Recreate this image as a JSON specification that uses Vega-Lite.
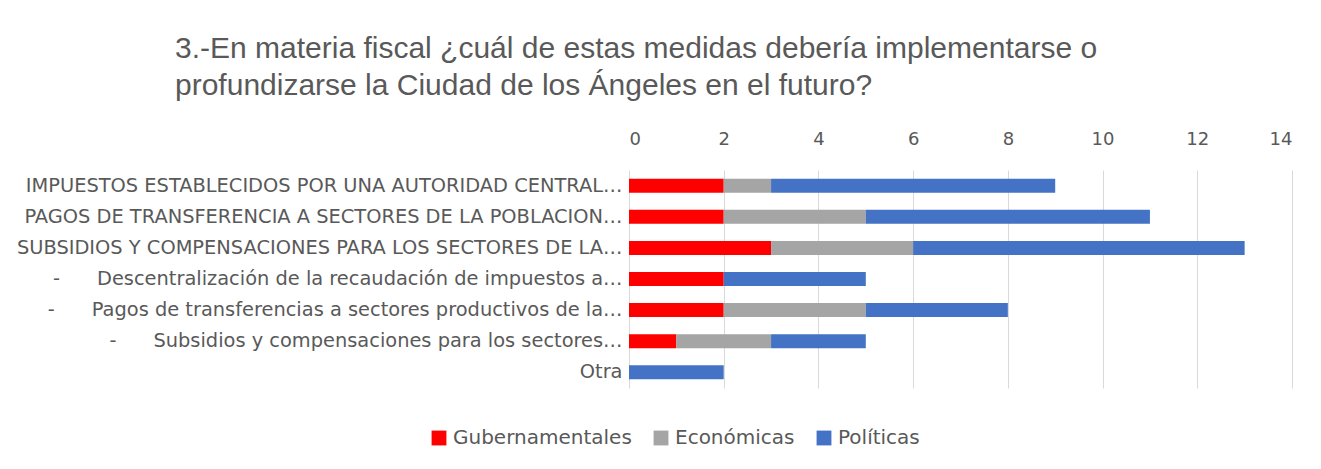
{
  "$schema": "https://vega.github.io/schema/vega-lite/v6.json",
  "autosize": "none",
  "width": 663,
  "height": 218,
  "padding": {"left": 629, "top": 170, "right": 29, "bottom": 81},
  "background": "white",
  "title": {
    "text": ["3.-En materia fiscal ¿cuál de estas medidas debería implementarse o", "profundizarse la Ciudad de los Ángeles en el futuro?"],
    "anchor": "start",
    "frame": "group",
    "dx": -454,
    "offset": 29,
    "font": "Liberation Sans",
    "fontSize": 30,
    "fontWeight": "normal",
    "color": "#595959",
    "lineHeight": 37
  },
  "data": {
    "values": [
      {"medida": "IMPUESTOS ESTABLECIDOS POR UNA AUTORIDAD CENTRAL…", "serie": "Gubernamentales", "n": 0, "valor": 2},
      {"medida": "IMPUESTOS ESTABLECIDOS POR UNA AUTORIDAD CENTRAL…", "serie": "Económicas", "n": 1, "valor": 1},
      {"medida": "IMPUESTOS ESTABLECIDOS POR UNA AUTORIDAD CENTRAL…", "serie": "Políticas", "n": 2, "valor": 6},
      {"medida": "PAGOS DE TRANSFERENCIA A SECTORES DE LA POBLACION…", "serie": "Gubernamentales", "n": 0, "valor": 2},
      {"medida": "PAGOS DE TRANSFERENCIA A SECTORES DE LA POBLACION…", "serie": "Económicas", "n": 1, "valor": 3},
      {"medida": "PAGOS DE TRANSFERENCIA A SECTORES DE LA POBLACION…", "serie": "Políticas", "n": 2, "valor": 6},
      {"medida": "SUBSIDIOS Y COMPENSACIONES PARA LOS SECTORES DE LA…", "serie": "Gubernamentales", "n": 0, "valor": 3},
      {"medida": "SUBSIDIOS Y COMPENSACIONES PARA LOS SECTORES DE LA…", "serie": "Económicas", "n": 1, "valor": 3},
      {"medida": "SUBSIDIOS Y COMPENSACIONES PARA LOS SECTORES DE LA…", "serie": "Políticas", "n": 2, "valor": 7},
      {"medida": "-\u00a0\u00a0\u00a0\u00a0\u00a0\u00a0Descentralización de la recaudación de impuestos a…", "serie": "Gubernamentales", "n": 0, "valor": 2},
      {"medida": "-\u00a0\u00a0\u00a0\u00a0\u00a0\u00a0Descentralización de la recaudación de impuestos a…", "serie": "Económicas", "n": 1, "valor": 0},
      {"medida": "-\u00a0\u00a0\u00a0\u00a0\u00a0\u00a0Descentralización de la recaudación de impuestos a…", "serie": "Políticas", "n": 2, "valor": 3},
      {"medida": "-\u00a0\u00a0\u00a0\u00a0\u00a0\u00a0Pagos de transferencias a sectores productivos de la…", "serie": "Gubernamentales", "n": 0, "valor": 2},
      {"medida": "-\u00a0\u00a0\u00a0\u00a0\u00a0\u00a0Pagos de transferencias a sectores productivos de la…", "serie": "Económicas", "n": 1, "valor": 3},
      {"medida": "-\u00a0\u00a0\u00a0\u00a0\u00a0\u00a0Pagos de transferencias a sectores productivos de la…", "serie": "Políticas", "n": 2, "valor": 3},
      {"medida": "-\u00a0\u00a0\u00a0\u00a0\u00a0\u00a0Subsidios y compensaciones para los sectores…", "serie": "Gubernamentales", "n": 0, "valor": 1},
      {"medida": "-\u00a0\u00a0\u00a0\u00a0\u00a0\u00a0Subsidios y compensaciones para los sectores…", "serie": "Económicas", "n": 1, "valor": 2},
      {"medida": "-\u00a0\u00a0\u00a0\u00a0\u00a0\u00a0Subsidios y compensaciones para los sectores…", "serie": "Políticas", "n": 2, "valor": 2},
      {"medida": "Otra", "serie": "Políticas", "n": 2, "valor": 2}
    ]
  },
  "mark": {"type": "bar"},
  "encoding": {
    "y": {
      "field": "medida",
      "type": "nominal",
      "sort": null,
      "scale": {"paddingInner": 0.55, "paddingOuter": 0.28},
      "axis": {
        "title": null,
        "domain": false,
        "ticks": false,
        "labelFont": "DejaVu Sans",
        "labelFontSize": 19.4,
        "labelColor": "#595959",
        "labelLimit": 700,
        "labelPadding": 7
      }
    },
    "x": {
      "field": "valor",
      "type": "quantitative",
      "stack": "zero",
      "scale": {"domain": [0, 14], "nice": false},
      "axis": {
        "orient": "top",
        "title": null,
        "values": [0, 2, 4, 6, 8, 10, 12, 14],
        "domain": false,
        "ticks": false,
        "grid": true,
        "gridColor": "#D9D9D9",
        "gridWidth": 1,
        "labelFont": "DejaVu Sans",
        "labelFontSize": 18,
        "labelColor": "#595959",
        "labelPadding": 22
      }
    },
    "color": {
      "field": "serie",
      "type": "nominal",
      "scale": {
        "domain": ["Gubernamentales", "Económicas", "Políticas"],
        "range": ["#FF0000", "#A5A5A5", "#4472C4"]
      },
      "legend": {
        "title": null,
        "orient": "none",
        "direction": "horizontal",
        "legendX": -200,
        "legendY": 258,
        "symbolType": "square",
        "symbolSize": 220,
        "symbolStrokeWidth": 0,
        "labelFont": "DejaVu Sans",
        "labelFontSize": 20,
        "labelLimit": 400,
        "labelColor": "#595959",
        "columnPadding": 19,
        "labelOffset": 4
      }
    },
    "order": {"field": "n", "type": "quantitative"}
  },
  "config": {"view": {"stroke": null}}
}
